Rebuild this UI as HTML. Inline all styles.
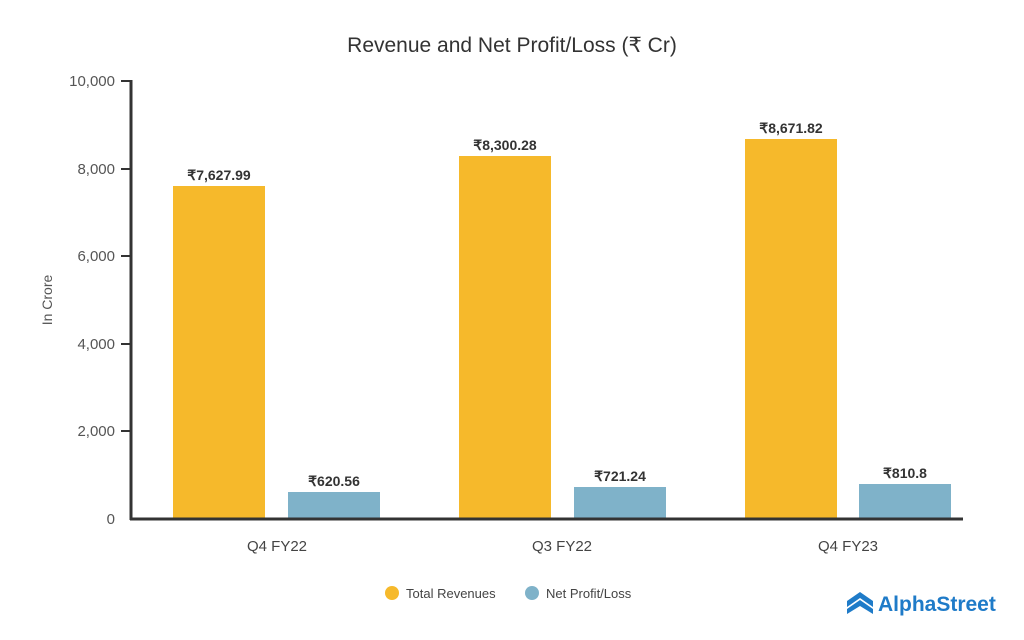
<!DOCTYPE html>
<html><head><meta charset="utf-8"><style>
body{margin:0;background:#fff;}
svg{display:block;font-family:"Liberation Sans",sans-serif;}
</style></head><body>
<svg width="1024" height="640" viewBox="0 0 1024 640">
<rect width="1024" height="640" fill="#fff"/>
<text x="512" y="52" text-anchor="middle" font-size="21" fill="#333">Revenue and Net Profit/Loss (₹ Cr)</text>
<g font-size="15" fill="#555" text-anchor="end">
<text x="115" y="86">10,000</text>
<text x="115" y="174">8,000</text>
<text x="115" y="261">6,000</text>
<text x="115" y="349">4,000</text>
<text x="115" y="436">2,000</text>
<text x="115" y="524">0</text>
</g>
<g stroke="#333" stroke-width="2">
<line x1="121" y1="81" x2="131" y2="81"/>
<line x1="121" y1="169" x2="131" y2="169"/>
<line x1="121" y1="256" x2="131" y2="256"/>
<line x1="121" y1="344" x2="131" y2="344"/>
<line x1="121" y1="431" x2="131" y2="431"/>
</g>
<text transform="translate(52,300) rotate(-90)" text-anchor="middle" font-size="14" fill="#555">In Crore</text>
<g fill="#F6B92B">
<rect x="173" y="186" width="92" height="333"/>
<rect x="459" y="156" width="92" height="363"/>
<rect x="745" y="139" width="92" height="380"/>
</g>
<g fill="#7FB2C9">
<rect x="288" y="492" width="92" height="27"/>
<rect x="574" y="487" width="92" height="32"/>
<rect x="859" y="484" width="92" height="35"/>
</g>
<g font-size="14" font-weight="bold" fill="#333" text-anchor="middle">
<text x="219" y="180">₹7,627.99</text>
<text x="505" y="150">₹8,300.28</text>
<text x="791" y="133">₹8,671.82</text>
<text x="334" y="486">₹620.56</text>
<text x="620" y="481">₹721.24</text>
<text x="905" y="478">₹810.8</text>
</g>
<line x1="131" y1="80" x2="131" y2="520" stroke="#333" stroke-width="3"/>
<line x1="130" y1="519" x2="963" y2="519" stroke="#333" stroke-width="3"/>
<g font-size="15" fill="#444" text-anchor="middle">
<text x="277" y="551">Q4 FY22</text>
<text x="562" y="551">Q3 FY22</text>
<text x="848" y="551">Q4 FY23</text>
</g>
<circle cx="392" cy="593" r="7" fill="#F6B92B"/>
<text x="406" y="598" font-size="13" fill="#444">Total Revenues</text>
<circle cx="532" cy="593" r="7" fill="#7FB2C9"/>
<text x="546" y="598" font-size="13" fill="#444">Net Profit/Loss</text>
<g fill="#1F7BC8">
<path d="M847 601 L860 592 L873 601 L873 607 L860 598 L847 607 Z"/>
<path d="M847 609 L860 600 L873 609 L873 614 L860 606 L847 614 Z"/>
</g>
<text x="878" y="611" font-size="21" font-weight="bold" fill="#1F7BC8">AlphaStreet</text>
</svg>
</body></html>
